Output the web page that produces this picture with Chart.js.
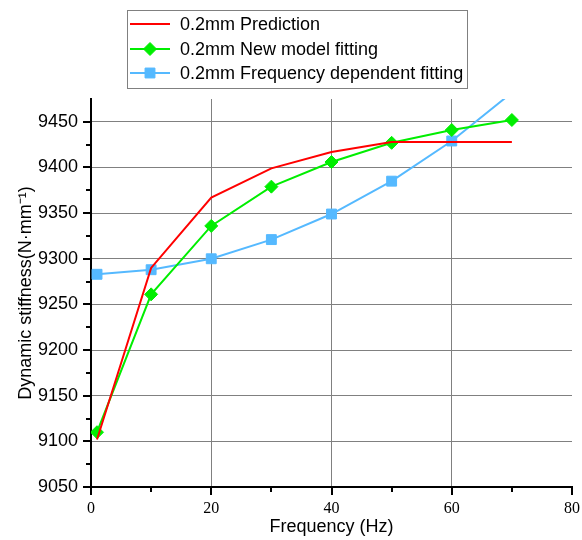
<!DOCTYPE html>
<html>
<head>
<meta charset="utf-8">
<script src="https://cdn.jsdelivr.net/npm/chart.js@4.4.1/dist/chart.umd.min.js"></script>
<style>
  html, body { margin: 0; padding: 0; background: #fff; }
  #wrap { width: 582px; height: 540px; position: relative; }
</style>
</head>
<body>
<div id="wrap"><canvas id="stiffChart"></canvas></div>
<script>
// DATA
let freq = [1, 10, 20, 30, 40, 50, 60, 70];
let prediction = [9102, 9290, 9367, 9399, 9417, 9428, 9428, 9428];
let newModel = [9110, 9261, 9336, 9379, 9406, 9427, 9441, 9452];
let freqDependent = [9283, 9288, 9300, 9321, 9349, 9385, 9429, 9482];

let seriesNames = ['0.2mm Prediction', '0.2mm New model fitting', '0.2mm Frequency dependent fitting'];

let xTicks = [0, 20, 40, 60, 80];
let xMinor = [10, 30, 50, 70];
let yTicks = [9050, 9100, 9150, 9200, 9250, 9300, 9350, 9400, 9450];
let yMinor = [9075, 9125, 9175, 9225, 9275, 9325, 9375, 9425];

let toPoints = (vals) => vals.map((v, i) => ({ x: freq[i], y: v }));

let gridGray = '#808080';
let sansFont = '"Liberation Sans", Arial, sans-serif';

// tick marks on the axes (major + minor), drawn outward
const axisTicks = {
    id: 'axisTicks',
    afterDraw(chart) {
        let { ctx, chartArea, scales } = chart;
        let x = scales.x, y = scales.y;
        ctx.save();
        ctx.strokeStyle = '#000';
        ctx.lineWidth = 2;
        ctx.beginPath();
        yTicks.forEach(v => {
            let py = Math.round(y.getPixelForValue(v));
            ctx.moveTo(chartArea.left - 8, py);
            ctx.lineTo(chartArea.left, py);
        });
        yMinor.forEach(v => {
            let py = Math.round(y.getPixelForValue(v));
            ctx.moveTo(chartArea.left - 5, py);
            ctx.lineTo(chartArea.left, py);
        });
        xTicks.forEach(v => {
            let px = Math.round(x.getPixelForValue(v));
            ctx.moveTo(px, chartArea.bottom);
            ctx.lineTo(px, chartArea.bottom + 8);
        });
        xMinor.forEach(v => {
            let px = Math.round(x.getPixelForValue(v));
            ctx.moveTo(px, chartArea.bottom);
            ctx.lineTo(px, chartArea.bottom + 5);
        });
        ctx.stroke();
        ctx.restore();
    }
};

// boxed legend in the top-left, line sample with marker
const boxLegend = {
    id: 'boxLegend',
    afterDraw(chart) {
        let ctx = chart.ctx;
        ctx.save();
        ctx.strokeStyle = gridGray;
        ctx.lineWidth = 1;
        ctx.strokeRect(127.5, 10.5, 340, 78);
        ctx.font = '18px ' + sansFont;
        ctx.textBaseline = 'middle';
        let rows = [24, 49, 73];
        chart.data.datasets.forEach((ds, i) => {
            let yy = rows[i];
            ctx.strokeStyle = ds.borderColor;
            ctx.lineWidth = 2;
            ctx.beginPath();
            ctx.moveTo(130, yy);
            ctx.lineTo(170, yy);
            ctx.stroke();
            if (ds.pointRadius > 0) {
                ctx.fillStyle = ds.pointBackgroundColor;
                ctx.strokeStyle = ds.pointBorderColor;
                ctx.lineWidth = 1;
                Chart.helpers.drawPoint(ctx, {
                    pointStyle: ds.pointStyle,
                    radius: ds.pointRadius,
                    borderWidth: 1
                }, 150, yy);
            }
            ctx.fillStyle = '#000';
            ctx.fillText(ds.label, 180, yy + 1);
        });
        ctx.restore();
    }
};

let ctx = document.querySelector('#stiffChart').getContext('2d');

let stiffChart = new Chart(ctx, {
    type: 'line',
    data: {
        datasets: [{
            label: seriesNames[0],
            data: toPoints(prediction),
            borderColor: '#ff0000',
            backgroundColor: '#ff0000',
            borderWidth: 2,
            pointRadius: 0
        }, {
            label: seriesNames[1],
            data: toPoints(newModel),
            borderColor: '#00ee00',
            backgroundColor: '#00ee00',
            pointBackgroundColor: '#00ee00',
            pointBorderColor: '#00ee00',
            borderWidth: 2,
            pointStyle: 'rectRot',
            pointRadius: 6.5,
            pointBorderWidth: 1
        }, {
            label: seriesNames[2],
            data: toPoints(freqDependent),
            borderColor: '#55b9ff',
            backgroundColor: '#55b9ff',
            pointBackgroundColor: '#55b9ff',
            pointBorderColor: '#55b9ff',
            borderWidth: 2,
            pointStyle: 'rect',
            pointRadius: 7,
            pointBorderWidth: 1
        }]
    },
    options: {
        responsive: true,
        maintainAspectRatio: false,
        animation: false,
        layout: {
            padding: { left: 0, right: 10, top: 99, bottom: 0 }
        },
        plugins: {
            legend: { display: false },
            tooltip: { enabled: false }
        },
        scales: {
            x: {
                type: 'linear',
                min: 0,
                max: 80,
                afterBuildTicks: (s) => { s.ticks = xTicks.map(v => ({ value: v })); },
                afterFit: (s) => { s.height = 53; s.paddingLeft = 0; s.paddingRight = 0; },
                border: { color: '#000', width: 2 },
                grid: {
                    drawTicks: false,
                    color: (c) => (c.tick && (c.tick.value === 0 || c.tick.value === 80)) ? 'rgba(0,0,0,0)' : gridGray,
                    lineWidth: 1
                },
                ticks: {
                    padding: 12,
                    color: '#000',
                    callback: (v) => String(v),
                    font: { family: '"Liberation Serif", serif', size: 16 }
                },
                title: {
                    display: true,
                    text: 'Frequency (Hz)',
                    color: '#000',
                    padding: { top: 0, bottom: 2 },
                    font: { family: sansFont, size: 18 }
                }
            },
            y: {
                type: 'linear',
                min: 9050,
                max: 9475,
                afterBuildTicks: (s) => { s.ticks = yTicks.map(v => ({ value: v })); },
                afterFit: (s) => { s.width = 91; },
                border: { color: '#000', width: 2 },
                grid: {
                    drawTicks: false,
                    color: (c) => (c.tick && c.tick.value === 9050) ? 'rgba(0,0,0,0)' : gridGray,
                    lineWidth: 1
                },
                ticks: {
                    padding: 13,
                    color: '#000',
                    callback: (v) => String(v),
                    font: { family: sansFont, size: 18 }
                },
                title: {
                    display: true,
                    text: 'Dynamic stiffness(N·mm⁻¹)',
                    color: '#000',
                    padding: { top: 15, bottom: 0 },
                    font: { family: sansFont, size: 18 }
                }
            }
        }
    },
    plugins: [axisTicks, boxLegend]
});
</script>
</body>
</html>
